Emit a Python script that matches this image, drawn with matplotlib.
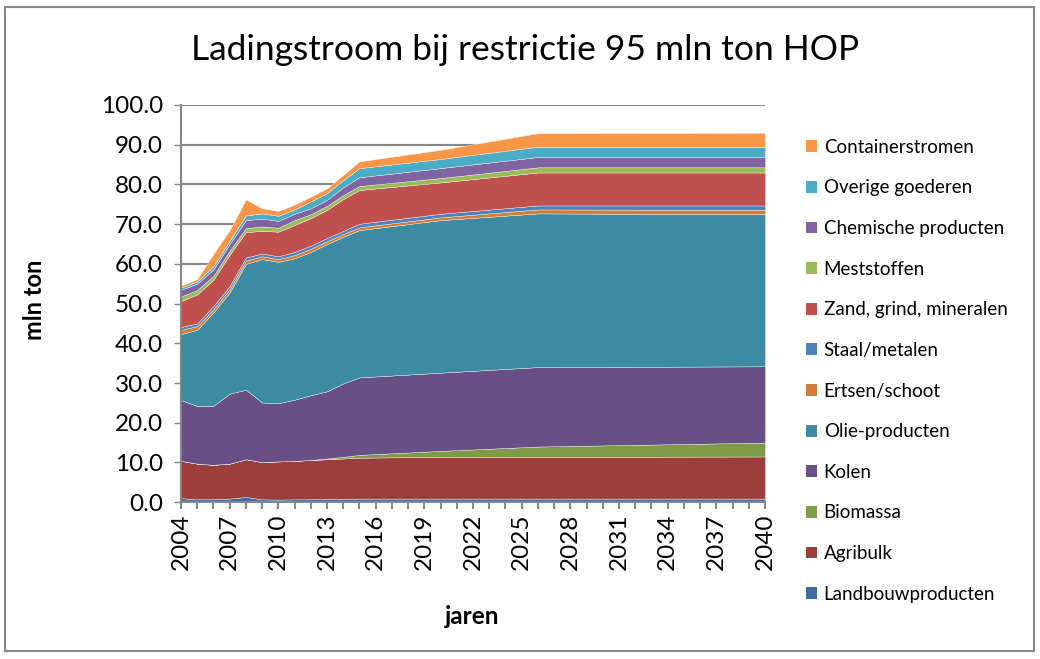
import matplotlib.pyplot as plt
from matplotlib.patches import Patch, Rectangle

# Years (straight segments between these points)
years = [2004, 2005, 2006, 2007, 2008, 2009, 2010, 2011, 2012, 2013, 2014, 2015, 2020, 2026, 2040]

# mln ton per cargo flow (bottom to top of the stack)
landbouwproducten = [1.0, 0.7, 0.75, 0.9, 1.3, 0.7, 0.65, 0.7, 0.75, 0.8, 0.85, 0.9, 0.9, 0.9, 0.9]
agribulk = [9.4, 9.0, 8.65, 8.8, 9.5, 9.4, 9.6, 9.7, 9.85, 10.0, 10.15, 10.3, 10.5, 10.5, 10.6]
biomassa = [0.0, 0.0, 0.0, 0.0, 0.0, 0.0, 0.0, 0.0, 0.0, 0.2, 0.4, 0.7, 1.5, 2.6, 3.5]
kolen = [15.3, 14.5, 14.9, 17.6, 17.5, 15.0, 14.65, 15.4, 16.3, 16.9, 18.5, 19.5, 19.7, 20.0, 19.2]
olie = [16.6, 19.2, 23.5, 25.5, 31.7, 36.1, 35.6, 35.6, 36.1, 37.1, 36.9, 37.1, 38.4, 38.7, 38.3]
ertsen = [1.1, 0.9, 0.8, 0.8, 0.8, 0.7, 0.7, 0.8, 0.8, 0.7, 0.7, 0.7, 0.7, 1.0, 1.1]
staal = [0.7, 0.7, 0.8, 0.8, 0.8, 0.7, 0.7, 0.8, 0.8, 0.8, 0.8, 0.9, 0.9, 1.0, 1.1]
zand = [6.5, 7.3, 6.6, 7.9, 6.4, 5.7, 6.2, 6.8, 6.9, 7.1, 8.0, 8.5, 7.9, 8.3, 8.3]
meststoffen = [1.2, 1.1, 1.0, 1.0, 1.0, 1.1, 1.0, 1.2, 1.0, 1.0, 1.0, 1.0, 1.1, 1.3, 1.3]
chemische = [1.7, 1.6, 1.6, 1.7, 2.0, 2.0, 1.7, 1.6, 1.5, 1.5, 2.0, 2.2, 2.5, 2.6, 2.6]
overige = [0.5, 0.6, 0.8, 0.8, 1.2, 1.3, 1.3, 1.1, 1.7, 1.7, 1.8, 2.3, 2.3, 2.6, 2.6]
container = [0.5, 0.6, 3.1, 2.7, 4.0, 1.3, 1.2, 1.2, 1.2, 1.2, 1.3, 1.7, 2.3, 3.4, 3.5]

labels = ["Landbouwproducten", "Agribulk", "Biomassa", "Kolen", "Olie-producten",
          "Ertsen/schoot", "Staal/metalen", "Zand, grind, mineralen", "Meststoffen",
          "Chemische producten", "Overige goederen", "Containerstromen"]
colors = ["#3F6CA2", "#9C3F3C", "#7E9B48", "#685087", "#3D8BA3", "#D07D38",
          "#4F81BD", "#C0504D", "#9BBB59", "#8064A2", "#4BACC6", "#F79646"]
series = [landbouwproducten, agribulk, biomassa, kolen, olie, ertsen, staal,
          zand, meststoffen, chemische, overige, container]

plt.rcParams["font.family"] = ["Lato", "DejaVu Sans"]
grey = "#868686"

fig = plt.figure(figsize=(10.4, 6.59), dpi=100)
ax = fig.add_axes([0.174, 0.238, 0.5616, 0.6027])

ax.stackplot(years, *series, colors=colors, edgecolor="white", linewidth=0.25)

# Axes and gridlines
ax.set_xlim(2004, 2040)
ax.set_ylim(0, 100)
ax.set_yticks(range(0, 101, 10))
ax.set_yticklabels([f"{v:.1f}" for v in range(0, 101, 10)], fontsize=17.5)
ax.set_xticks(range(2004, 2041, 3))
ax.set_xticklabels([str(y) for y in range(2004, 2041, 3)], rotation=90, fontsize=17.5)
ax.set_xticks(range(2004, 2041), minor=True)
ax.grid(axis="y", color=grey, linewidth=1.5)
ax.set_axisbelow(True)
for s in ["top", "right"]:
    ax.spines[s].set_visible(False)
for s in ["left", "bottom"]:
    ax.spines[s].set_color(grey)
    ax.spines[s].set_linewidth(1.5)
ax.tick_params(axis="y", length=5, width=1, color=grey, pad=8)
ax.tick_params(axis="x", which="both", length=5, width=1.5, color=grey, pad=3)

# Titles
fig.text(0.505, 0.924, "Ladingstroom bij restrictie 95 mln ton HOP", fontsize=25.5,
         ha="center", va="center")
fig.text(35 / 1040, 1 - 300 / 659, "mln ton", rotation=90, fontsize=17,
         fontweight="bold", ha="center", va="center")
fig.text(472 / 1040, 1 - 617 / 659, "jaren", fontsize=17.5, fontweight="bold",
         ha="center", va="center")

# Legend, top entry is the top of the stack
handles = [Patch(facecolor=c) for c in colors][::-1]
fig.legend(handles, labels[::-1], loc="upper left", bbox_to_anchor=(789 / 1040, 1 - 122 / 659),
           frameon=False, fontsize=13.5, handlelength=0.6, handleheight=0.6,
           handletextpad=0.35, labelspacing=1.26)

# Chart border
fig.patches.append(Rectangle((5 / 1040, 1 - 651 / 659), 1029 / 1040, 644 / 659,
                             transform=fig.transFigure, fill=False, edgecolor=grey, linewidth=1.5))

plt.savefig("out.png", dpi=100)
